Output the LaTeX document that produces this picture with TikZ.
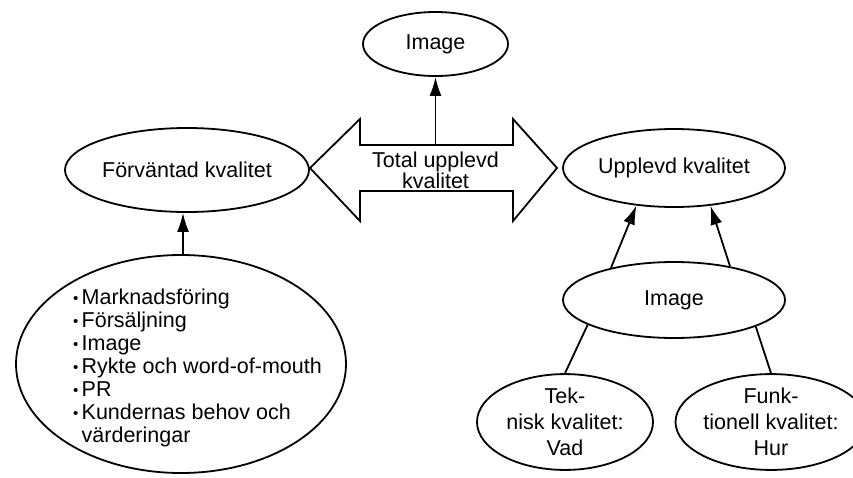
\documentclass[tikz,border=0pt]{standalone}
\usepackage{fontspec}
\setmainfont{Liberation Sans}
\usetikzlibrary{shapes.geometric,arrows.meta}
\newcommand\blt{\makebox[8.5pt][l]{\raisebox{1pt}{\scalebox{0.7}{\textbullet}}}}
\begin{document}
\begin{tikzpicture}[x=1pt,y=-1pt,
  oval/.style={ellipse,draw,line width=1.8pt,inner sep=0pt,align=center,
    font=\fontsize{21.5}{24}\selectfont},
  lbl/.style={inner sep=0pt,align=center,font=\fontsize{21.5}{20}\selectfont},
  conn/.style={line width=1.8pt},
  arr/.style={conn,-{Latex[length=19pt,width=12pt]}}]
\useasboundingbox (0,0) rectangle (853,477);
% ellipses
\node[oval,minimum width=145pt,minimum height=64pt] (img1) at (435.5,44) {Image};
\node[oval,minimum width=244pt,minimum height=84pt] (fk) at (187,170) {Förväntad kvalitet};
\node[oval,minimum width=222pt,minimum height=78pt] (uk) at (674,168) {Upplevd kvalitet};
\node[oval,minimum width=222pt,minimum height=76pt] (img2) at (674,300) {Image};
\node[oval,minimum width=176pt,minimum height=91pt,font=\fontsize{21.5}{26}\selectfont] (tek) at (565,422) {Tek-\\nisk kvalitet:\\Vad};
\node[oval,minimum width=164pt,minimum height=90pt,font=\fontsize{21.5}{26}\selectfont] (fun) at (771,422) {Funk-\\tionell kvalitet:\\Hur};
\node[oval,minimum width=330pt,minimum height=218pt] (lst) at (181,364) {};
\node[anchor=north west,inner sep=0pt,align=left,
  font=\fontsize{21.5}{23}\selectfont] (lsttxt) at (73,289)
  {\blt Marknadsföring\\\blt Försäljning\\\blt Image\\\blt Rykte och word-of-mouth\\\blt PR\\\blt Kundernas behov och\\\hspace*{8.5pt}värderingar};
% double arrow
\draw[line width=1.8pt,line join=miter] (310,168) -- (360,119) -- (360,145) -- (513,145)
  -- (513,119) -- (557,168) -- (513,221) -- (513,191) -- (360,191) -- (360,221) -- cycle;
\coordinate (dtop) at (435.5,145);
\node[lbl] (total) at (435.5,170) {Total upplevd\\kvalitet};
% connectors
\draw[arr] (dtop) -- (img1.south);
\draw[arr] (lst.north -| fk.south) ++(-4,0) coordinate (lstop) -- (lstop |- fk.south);
\draw[arr] (img2.153) -- (uk.225);
\draw[arr] (img2.31) -- (uk.314);
\draw[conn] (img2.196) -- (tek.north);
\draw[conn] (img2.342) -- (fun.north);
\end{tikzpicture}
\end{document}
